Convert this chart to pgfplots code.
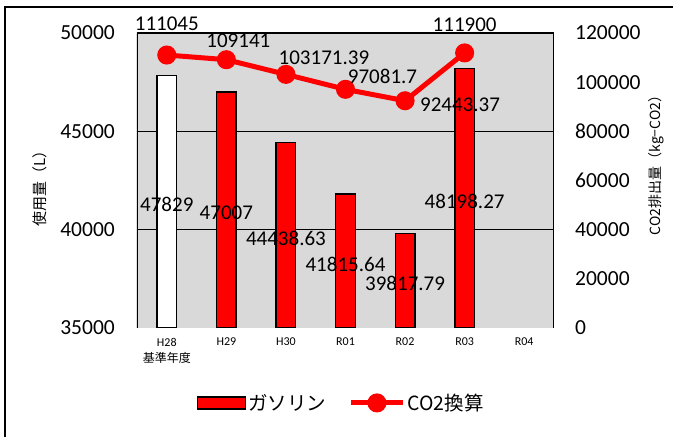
\documentclass[border=0pt]{standalone}
\usepackage{fontspec}
\setmainfont{Carlito}
\newfontfamily\jp{Noto Sans CJK JP}
\usepackage{pgfplots}
\usepackage{pgfplotstable}
\pgfplotsset{compat=1.18}
\definecolor{bg}{HTML}{D9D9D9}
\definecolor{myred}{HTML}{FF0000}

% gasoline use (L)
\pgfplotstableread{
x val mid lab
0 47829 41414.5 47829
1 47007 41003.5 47007
2 44438.63 39719.315 44438.63
3 41815.64 38407.82 41815.64
4 39817.79 37408.895 39817.79
5 48198.27 41599.135 48198.27
}\bartab

% CO2 (kg-CO2), label offsets dx dy
\pgfplotstableread{
x y dx dy
0 111045 0 31
1 109141 12 18.5
2 103171.39 38 16.5
3 97081.7 37 13
4 92443.37 55 -4
5 111900 0 28
}\linetab

\begin{document}
\begin{tikzpicture}[x=1pt,y=1pt]
\useasboundingbox (0,0) rectangle (673,437);
\draw[line width=1.5pt] (5,-5) -- (5,430) -- (680,430);

\begin{axis}[
  at={(137pt,109pt)}, anchor=south west,
  scale only axis, width=417pt, height=295pt,
  xmin=-0.5, xmax=6.5, ymin=35000, ymax=50000,
  axis background/.style={fill=bg},
  axis line style={draw=none},
  major tick length=0pt,
  xtick={0,...,6},
  xticklabels={{H28\\{\jp 基準年度}},H29,H30,R01,R02,R03,R04},
  xticklabel style={font=\fontsize{12}{16}\selectfont, align=center, inner sep=0pt, anchor=north, yshift=-10pt},
  ytick={40000,45000,50000},
  extra y ticks={35000}, extra y tick style={grid=none},
  ymajorgrids, grid style={black, line width=1.3pt},
  yticklabel style={font=\fontsize{21.5}{24}\selectfont, inner sep=0pt, anchor=east, xshift=-22pt},
  /pgf/number format/assume math mode=true,
  /pgf/number format/fixed,
  /pgf/number format/1000 sep={},
  scaled y ticks=false,
  every axis y label/.style={at={(axis description cs:-0.232,0.485)}, anchor=center, rotate=90},
  ylabel={\jp\fontsize{15}{18}\selectfont 使用量（L）},
  bar width=19.5pt,
]
\addplot[ybar, bar shift=0pt, fill=white, draw=black, line width=1.4pt,
  x filter/.expression={x>0.5 ? nan : x}]
  table[x=x, y=val] {\bartab};
\addplot[ybar, bar shift=0pt, fill=myred, draw=black, line width=1.4pt,
  x filter/.expression={x<0.5 ? nan : x}]
  table[x=x, y=val] {\bartab};
\addplot[draw=none, mark=none, nodes near coords, point meta=explicit symbolic,
  nodes near coords style={anchor=center, inner sep=0pt, yshift=-3pt, font=\fontsize{21}{24}\selectfont}]
  table[x=x, y=mid, meta=lab] {\bartab};
\draw[line width=1.5pt] (rel axis cs:0,0) -- (rel axis cs:0,1);
\draw[line width=1.5pt] (rel axis cs:1,0) -- (rel axis cs:1,1);
\end{axis}

\begin{axis}[
  at={(137pt,109pt)}, anchor=south west,
  scale only axis, width=417pt, height=295pt,
  xmin=-0.5, xmax=6.5, ymin=0, ymax=120000,
  hide x axis,
  axis line style={draw=none},
  major tick length=0pt,
  ytick={0,20000,...,120000},
  yticklabel pos=right,
  yticklabel style={font=\fontsize{21.5}{24}\selectfont, inner sep=0pt, anchor=west, xshift=21pt},
  /pgf/number format/assume math mode=true,
  /pgf/number format/fixed,
  /pgf/number format/1000 sep={},
  scaled y ticks=false,
  every axis y label/.style={at={(axis description cs:1.245,0.563)}, anchor=center, rotate=90},
  ylabel={\jp\fontsize{14}{17}\selectfont CO2排出量（kg−CO2）},
  clip=false,
  legend style={at={(axis description cs:0.49,-0.254)}, anchor=center, draw=none, fill=none,
    legend columns=2, font=\jp\fontsize{19.5}{22}\selectfont,
    /tikz/every even column/.append style={column sep=20pt}, nodes={inner sep=2pt}},
]
\addlegendimage{legend image code/.code={\draw[fill=myred, draw=black, line width=1.3pt] (0pt,-6pt) rectangle (48pt,6pt);}}
\addlegendentry{ガソリン}
\addplot[myred, line width=5pt, mark=*, mark size=7pt, mark options={draw=none, fill=myred},
  legend image code/.code={\draw[myred, line width=5pt] (0pt,0pt) -- (52pt,0pt); \fill[myred] (26pt,0pt) circle (7pt);}]
  table[x=x, y=y] {\linetab};
\addlegendentry{CO2換算}
\addplot[forget plot, draw=none, mark=none, nodes near coords, point meta=explicit symbolic,
  visualization depends on={\thisrow{dx} \as \dx},
  visualization depends on={\thisrow{dy} \as \dy},
  nodes near coords style={anchor=center, inner sep=0pt, text=black, font=\fontsize{21}{24}\selectfont, xshift=\dx pt, yshift=\dy pt}]
  table[x=x, y=y, meta=y] {\linetab};
\end{axis}
\end{tikzpicture}
\end{document}
